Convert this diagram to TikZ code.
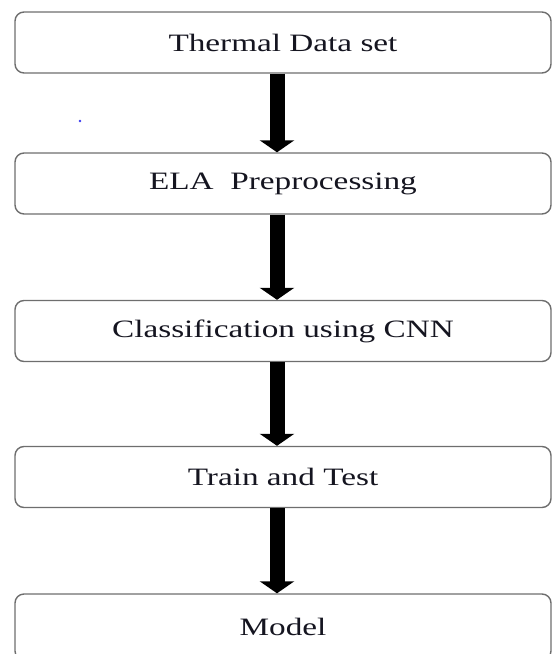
\documentclass[tikz,border=0pt]{standalone}
\usepackage{fontspec}
\setmainfont[FakeStretch=1.33]{Liberation Serif}
\usetikzlibrary{arrows.meta,positioning}
\definecolor{ink}{HTML}{151520}
\definecolor{frame}{HTML}{6E6E6E}
\definecolor{speck}{HTML}{3A3AF0}

\begin{document}
\begin{tikzpicture}[
  x=1pt,
  y=1pt,
  stage/.style={draw=frame, line width=1.4pt, fill=white, rounded corners=9pt,
                minimum width=536pt, minimum height=61pt, inner sep=0pt,
                font=\fontsize{25}{28}\selectfont, text=ink},
  flow/.style={line width=15pt, draw=black,
               -{Triangle[length=12pt,width=34pt]}},
]

\useasboundingbox (0,0) rectangle (552,-654);

\node[stage] (thermal) at (283,-42.5) {Thermal Data set};
\node[stage] (ela) at (283,-183.5) {ELA\ \ Preprocessing};
\node[stage] (cnn) at (283,-331) {Classification using CNN};
\node[stage] (traintest) at (283,-477) {Train and Test};
\node[stage, minimum height=66pt] (model) at (283,-627) {Model};

% the arrows sit a little left of the box centres
\draw[flow] ([xshift=-6pt]thermal.south) -- ([xshift=-6pt]ela.north);
\draw[flow] ([xshift=-6pt]ela.south) -- ([xshift=-6pt]cnn.north);
\draw[flow] ([xshift=-6pt]cnn.south) -- ([xshift=-6pt]traintest.north);
\draw[flow] ([xshift=-6pt]traintest.south) -- ([xshift=-6pt]model.north);

\fill[speck] (80,-121) circle (1.3pt);

\end{tikzpicture}
\end{document}
